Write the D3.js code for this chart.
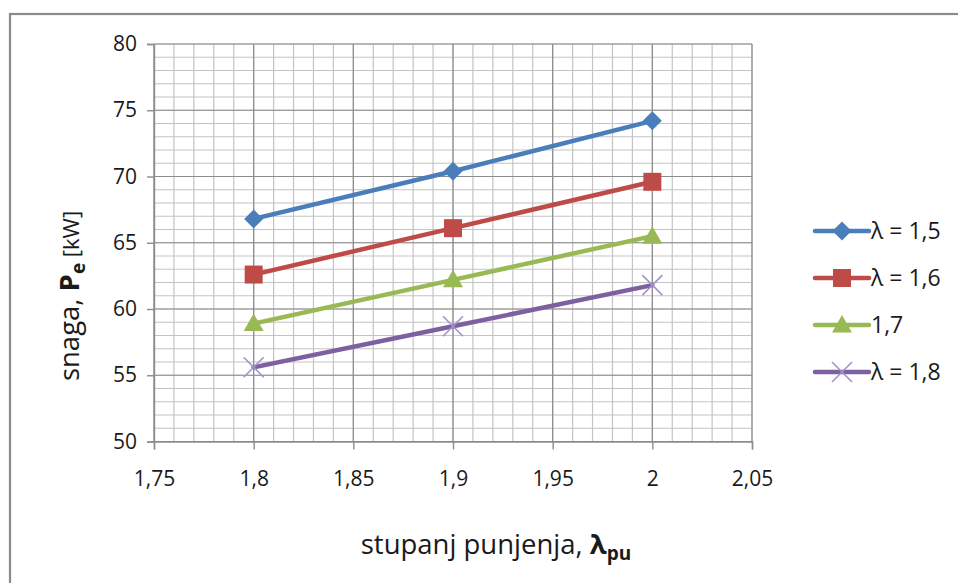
<!DOCTYPE html>
<html>
<head>
<meta charset="utf-8">
<script src="https://cdn.jsdelivr.net/npm/d3@7"></script>
<style>
  html, body { margin: 0; padding: 0; background: #fff; }
  svg text { font-family: "Open Sans", "Noto Sans", sans-serif; fill: #1a1a1a; }
</style>
</head>
<body>
<svg id="chart" width="958" height="583"></svg>
<script>
// ---- data ----
const xValues = [1.8, 1.9, 2.0];
const seriesNames = ["λ = 1,5", "λ = 1,6", "1,7", "λ = 1,8"];
const seriesA = [66.8, 70.4, 74.2];
const seriesB = [62.6, 66.1, 69.6];
const seriesC = [58.9, 62.2, 65.5];
const seriesD = [55.6, 58.7, 61.8];
const xTicks = [1.75, 1.8, 1.85, 1.9, 1.95, 2.0, 2.05];
const yTicks = [50, 55, 60, 65, 70, 75, 80];

const seriesValues = [seriesA, seriesB, seriesC, seriesD];
const colors = ["#4a7ebb", "#be4b48", "#98b954", "#7d60a0"];
const markerTypes = ["diamond", "square", "triangle", "x"];

const svg = d3.select("#chart");

// outer chart border (top and left visible, right/bottom beyond the picture)
svg.append("rect").attr("x", 10).attr("y", 14).attr("width", 970).attr("height", 600)
  .attr("fill", "none").attr("stroke", "#8a8a8a").attr("stroke-width", 2.2);

const x = d3.scaleLinear().domain([1.75, 2.05]).range([154, 752]);
const y = d3.scaleLinear().domain([50, 80]).range([441.5, 44]);

const fmt = v => String(+v.toFixed(2)).replace(".", ",");

// minor grid
const minorX = d3.range(175, 206, 1).map(v => v / 100);
const minorY = d3.range(50, 81, 1);
const grid = svg.append("g");
grid.selectAll(".mx").data(minorX).join("line")
  .attr("x1", d => x(d)).attr("x2", d => x(d)).attr("y1", y(80)).attr("y2", y(50))
  .attr("stroke", "#c4c4c4").attr("stroke-width", 1.2);
grid.selectAll(".my").data(minorY).join("line")
  .attr("y1", d => y(d)).attr("y2", d => y(d)).attr("x1", x(1.75)).attr("x2", x(2.05))
  .attr("stroke", "#c4c4c4").attr("stroke-width", 1.2);
// major grid
grid.selectAll(".Mx").data(xTicks).join("line")
  .attr("x1", d => x(d)).attr("x2", d => x(d)).attr("y1", y(80)).attr("y2", y(50))
  .attr("stroke", "#8c8c8c").attr("stroke-width", 1.2);
grid.selectAll(".My").data(yTicks).join("line")
  .attr("y1", d => y(d)).attr("y2", d => y(d)).attr("x1", x(1.75)).attr("x2", x(2.05))
  .attr("stroke", "#8c8c8c").attr("stroke-width", 1.2);

// axes
const xAxis = d3.axisBottom(x).tickValues(xTicks).tickFormat(fmt).tickSize(8).tickPadding(22);
const yAxis = d3.axisLeft(y).tickValues(yTicks).tickFormat(d => d).tickSize(7).tickPadding(10);
const gx = svg.append("g").attr("transform", `translate(0,${y(50)})`).call(xAxis);
const gy = svg.append("g").attr("transform", `translate(${x(1.75)},0)`).call(yAxis);
[gx, gy].forEach(g => {
  g.select(".domain").attr("stroke", "#8c8c8c").attr("stroke-width", 1.4);
  g.selectAll(".tick line").attr("stroke", "#8c8c8c").attr("stroke-width", 1.4);
  g.selectAll(".tick text").attr("font-size", 21).attr("fill", "#1a1a1a")
    .attr("font-family", "'Open Sans', sans-serif");
});

// marker paths
function markerPath(type) {
  switch (type) {
    case "diamond": return "M0,-9.5L9.5,0L0,9.5L-9.5,0Z";
    case "square": return "M-9,-9L9,-9L9,9L-9,9Z";
    case "triangle": return "M0,-10L10,7.5L-10,7.5Z";
    case "x": return "M-10,-10L10,10M-10,10L10,-10";
  }
}
function drawMarker(g, type, color, cx, cy) {
  const p = g.append("path").attr("d", markerPath(type))
    .attr("transform", `translate(${cx},${cy})`);
  if (type === "x") p.attr("fill", "none").attr("stroke", "#a592c8").attr("stroke-width", 1.6);
  else p.attr("fill", color).attr("stroke", "none");
}

const line = d3.line().x(d => x(d[0])).y(d => y(d[1]));
seriesValues.forEach((vals, i) => {
  const pts = xValues.map((xv, j) => [xv, vals[j]]);
  const g = svg.append("g");
  g.append("path").datum(pts).attr("d", line).attr("fill", "none")
    .attr("stroke", colors[i]).attr("stroke-width", 4.5).attr("stroke-linecap", "round");
  pts.forEach(p => drawMarker(g, markerTypes[i], colors[i], x(p[0]), y(p[1])));
});

// legend
const legendY = [231, 278, 325, 372];
seriesNames.forEach((name, i) => {
  const g = svg.append("g");
  g.append("line").attr("x1", 815).attr("x2", 869).attr("y1", legendY[i]).attr("y2", legendY[i])
    .attr("stroke", colors[i]).attr("stroke-width", 4.5).attr("stroke-linecap", "round");
  drawMarker(g, markerTypes[i], colors[i], 842, legendY[i]);
  g.append("text").attr("x", 871).attr("y", legendY[i]).attr("dy", "0.36em")
    .attr("font-size", 23).text(name);
});

// x axis title
const xt = svg.append("text").attr("x", 496).attr("y", 554).attr("text-anchor", "middle")
  .attr("font-size", 27.5);
xt.append("tspan").text("stupanj punjenja, ");
xt.append("tspan").attr("font-weight", "bold").text("λ");
xt.append("tspan").attr("font-weight", "bold").attr("font-size", 19).attr("dy", 6).text("pu");

// y axis title
const yt = svg.append("text").attr("transform", "translate(79,296) rotate(-90)")
  .attr("text-anchor", "middle").attr("font-size", 27.5);
yt.append("tspan").text("snaga,  ");
yt.append("tspan").attr("font-weight", "bold").text("P");
yt.append("tspan").attr("font-weight", "bold").attr("font-size", 19).attr("dy", 6).text("e");
yt.append("tspan").attr("dy", -6).attr("font-size", 22).text(" [kW]");
</script>
</body>
</html>
